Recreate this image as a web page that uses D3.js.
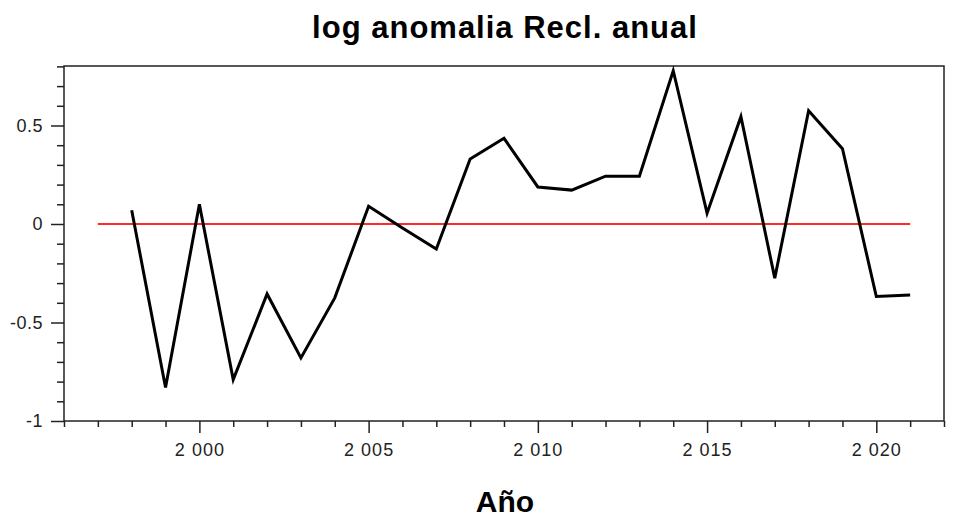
<!DOCTYPE html>
<html>
<head>
<meta charset="utf-8">
<script src="https://cdn.jsdelivr.net/npm/d3@7"></script>
<style>
  html, body { margin: 0; padding: 0; background: #fff; }
  svg { display: block; font-family: "Liberation Sans", Arial, sans-serif; }
</style>
</head>
<body>
<svg id="chart" width="953" height="520"></svg>
<script>
// Annual log anomaly series
const years = [1998, 1999, 2000, 2001, 2002, 2003, 2004, 2005, 2006, 2007, 2008, 2009,
               2010, 2011, 2012, 2013, 2014, 2015, 2016, 2017, 2018, 2019, 2020, 2021];
const logAnomaly = [0.07, -0.83, 0.10, -0.79, -0.355, -0.68, -0.375, 0.09, -0.02, -0.127, 0.33, 0.435,
                    0.188, 0.172, 0.243, 0.243, 0.778, 0.055, 0.545, -0.275, 0.575, 0.382, -0.368, -0.36];
// Reference (zero) line extent
const refYears = [1997, 2021];
const refValue = 0;
// Axis ticks
const xMajorTicks = [2000, 2005, 2010, 2015, 2020];
const yMajorTicks = [-1, -0.5, 0, 0.5];

const svg = d3.select("#chart");
const plot = { left: 64, right: 944, top: 66, bottom: 421 };

const x = d3.scaleLinear().domain([1996, 2022]).range([plot.left, plot.right]);
const y = d3.scaleLinear().domain([-1, 0.802]).range([plot.bottom, plot.top]);

const fmtYear = d => d3.format(",")(d).replace(",", " ");
const fmtY = d => (d === 0 ? "0" : String(d));

// Minor ticks (every year / every 0.1)
const xMinor = d3.range(1996, 2023).filter(v => !xMajorTicks.includes(v));
const yMinor = d3.range(-10, 9).map(v => v / 10).filter(v => !yMajorTicks.includes(v));

const axisColor = "#222";
const tickFont = 18;

// X axis: major ticks with labels
svg.append("g")
  .attr("transform", `translate(0,${plot.bottom})`)
  .call(d3.axisBottom(x).tickValues(xMajorTicks).tickSize(12).tickPadding(10).tickFormat(fmtYear))
  .call(g => g.select(".domain").remove())
  .call(g => g.selectAll("line").attr("stroke", axisColor).attr("stroke-width", 1.5))
  .call(g => g.selectAll("text").attr("font-size", tickFont).attr("fill", "#222")
      .attr("letter-spacing", 1)
      .attr("font-family", "'Liberation Sans', Arial, sans-serif"));

// X axis: minor ticks
svg.append("g")
  .attr("transform", `translate(0,${plot.bottom})`)
  .call(d3.axisBottom(x).tickValues(xMinor).tickSize(6).tickFormat(""))
  .call(g => g.select(".domain").remove())
  .call(g => g.selectAll("line").attr("stroke", axisColor).attr("stroke-width", 1.5));

// Y axis: major ticks with labels
svg.append("g")
  .attr("transform", `translate(${plot.left},0)`)
  .call(d3.axisLeft(y).tickValues(yMajorTicks).tickSize(13).tickPadding(8).tickFormat(fmtY))
  .call(g => g.select(".domain").remove())
  .call(g => g.selectAll("line").attr("stroke", axisColor).attr("stroke-width", 1.5))
  .call(g => g.selectAll("text").attr("font-size", tickFont).attr("fill", "#222")
      .attr("letter-spacing", 0.5)
      .attr("font-family", "'Liberation Sans', Arial, sans-serif"));

// Y axis: minor ticks
svg.append("g")
  .attr("transform", `translate(${plot.left},0)`)
  .call(d3.axisLeft(y).tickValues(yMinor).tickSize(7).tickFormat(""))
  .call(g => g.select(".domain").remove())
  .call(g => g.selectAll("line").attr("stroke", axisColor).attr("stroke-width", 1.5));

// Plot frame
svg.append("rect")
  .attr("x", plot.left).attr("y", plot.top)
  .attr("width", plot.right - plot.left).attr("height", plot.bottom - plot.top)
  .attr("fill", "none").attr("stroke", axisColor).attr("stroke-width", 1.5);

// Zero reference line
svg.append("line")
  .attr("x1", x(refYears[0])).attr("x2", x(refYears[1]))
  .attr("y1", y(refValue)).attr("y2", y(refValue))
  .attr("stroke", "#ff2a2a").attr("stroke-width", 2);

// Series line
const line = d3.line().x((d, i) => x(years[i])).y(d => y(d));
svg.append("path")
  .datum(logAnomaly)
  .attr("d", line)
  .attr("fill", "none")
  .attr("stroke", "#000")
  .attr("stroke-width", 3)
  .attr("stroke-linejoin", "miter");

// Title
svg.append("text")
  .attr("x", 505).attr("y", 38)
  .attr("text-anchor", "middle")
  .attr("font-size", 31)
  .attr("font-weight", "bold")
  .attr("letter-spacing", 1)
  .attr("fill", "#000")
  .text("log anomalia Recl. anual");

// X axis title
svg.append("text")
  .attr("x", 505).attr("y", 512)
  .attr("text-anchor", "middle")
  .attr("font-size", 30)
  .attr("font-weight", "bold")
  .attr("fill", "#000")
  .text("Año");
</script>
</body>
</html>
